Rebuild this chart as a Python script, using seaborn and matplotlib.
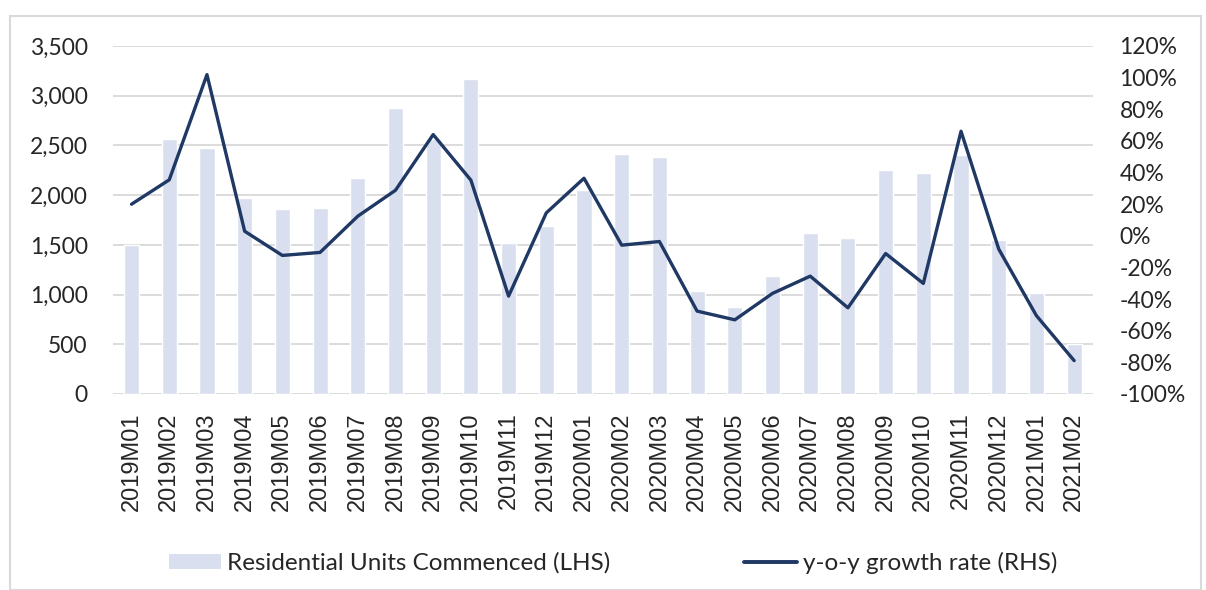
import numpy as np
import pandas as pd
import matplotlib
matplotlib.use("Agg")
import matplotlib.pyplot as plt
import seaborn as sns
from matplotlib.patches import Rectangle
from matplotlib.lines import Line2D
from matplotlib.ticker import FuncFormatter, MultipleLocator

# data
months = ["2019M01", "2019M02", "2019M03", "2019M04", "2019M05", "2019M06",
          "2019M07", "2019M08", "2019M09", "2019M10", "2019M11", "2019M12",
          "2020M01", "2020M02", "2020M03", "2020M04", "2020M05", "2020M06",
          "2020M07", "2020M08", "2020M09", "2020M10", "2020M11", "2020M12",
          "2021M01", "2021M02"]
units = [1495, 2565, 2475, 1970, 1860, 1873, 2171, 2881, 2560, 3169, 1518, 1688,
         2050, 2415, 2382, 1035, 871, 1186, 1618, 1568, 2248, 2221, 2400, 1548,
         1018, 506]
yoy = [20.0, 35.4, 101.9, 2.9, -12.4, -10.5, 12.4, 28.8, 64.0, 35.2, -38.1, 14.5,
       36.4, -5.9, -3.6, -47.6, -53.1, -36.4, -25.5, -45.5, -11.2, -30.1, 66.1, -8.4,
       -50.5, -78.9]

bar_label = "Residential Units Commenced (LHS)"
line_label = "y-o-y growth rate (RHS)"

bar_color = "#D9DFEF"
line_color = "#1F3864"
grid_color = "#D9D9D9"

sns.set_style("white")
plt.rcParams['font.family'] = ['Lato', 'DejaVu Sans']

df = pd.DataFrame({"month": months, "units": units, "yoy": yoy})
df["pos"] = np.arange(len(df))

W, H = 1206, 590
fig = plt.figure(figsize=(W / 100, H / 100), dpi=100)
ax = fig.add_axes([112.7 / W, 1 - 394 / H, (1093 - 112.7) / W, (394 - 46) / H])

sns.barplot(data=df, x="month", y="units", color=bar_color, width=0.40,
            saturation=1, ax=ax, zorder=2)
ax.set_ylim(0, 3500)
ax.set_xlim(-0.5, len(months) - 0.5)
ax.yaxis.set_major_locator(MultipleLocator(500))
ax.yaxis.set_major_formatter(FuncFormatter(lambda v, p: f"{v:,.0f}"))
ax.grid(axis="y", color=grid_color, linewidth=1.3, zorder=0)
ax.set_axisbelow(True)
for s in ax.spines.values():
    s.set_visible(False)
ax.set_xlabel("")
ax.set_ylabel("")
ax.tick_params(axis="y", length=0, pad=18, labelsize=16.5)
ax.tick_params(axis="x", length=0, pad=13)
ax.set_xticks(range(len(months)))
ax.set_xticklabels(months, rotation=90, fontsize=17, family="Liberation Sans",
                   va="top")

ax2 = ax.twinx()
sns.lineplot(data=df, x="pos", y="yoy", color=line_color, linewidth=2.4, ax=ax2)
ax2.set_ylim(-100, 120)
ax2.yaxis.set_major_locator(MultipleLocator(20))
ax2.yaxis.set_major_formatter(FuncFormatter(lambda v, p: f"{v:.0f}%"))
ax2.tick_params(axis="y", length=0, pad=19, labelsize=16.5)
for s in ax2.spines.values():
    s.set_visible(False)
ax2.set_xlabel("")
ax2.set_ylabel("")
ax2.set_xlim(-0.5, len(months) - 0.5)

handles = [Rectangle((0, 0), 1, 1, facecolor=bar_color, edgecolor="none"),
           Line2D([0], [0], color=line_color, linewidth=2.8)]
fig.legend(handles, [bar_label, line_label], loc="center",
           bbox_to_anchor=(613 / W, 1 - 563 / H), ncol=2, frameon=False,
           fontsize=17.5, handlelength=2.15, handleheight=0.58,
           handletextpad=0.25, columnspacing=5.5)

fig.patches.append(Rectangle((9.5 / W, 0), (1201 - 9.5) / W, 1 - 16 / H,
                             transform=fig.transFigure, fill=False,
                             edgecolor=grid_color, linewidth=1.5))

fig.savefig("out.png", dpi=100)
